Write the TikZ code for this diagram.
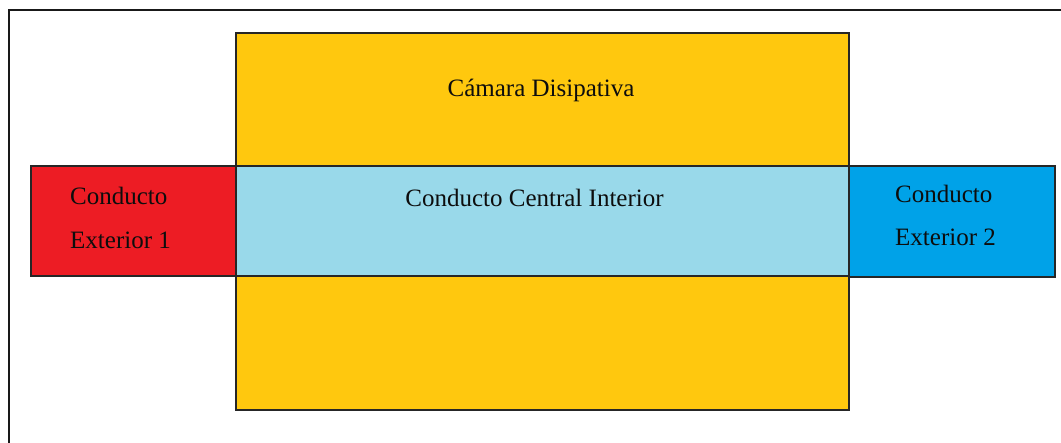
\documentclass[tikz,border=0pt]{standalone}
\usepackage{fontspec}
\setmainfont{Liberation Serif}
\definecolor{camyellow}{RGB}{255,200,14}
\definecolor{extred}{RGB}{237,28,36}
\definecolor{cenblue}{RGB}{153,217,234}
\definecolor{extblue}{RGB}{0,162,232}
\tikzset{
  region/.style={draw=black!85, line width=1.3pt, anchor=north west, inner sep=0pt, outer sep=0pt},
  label/.style={inner sep=0pt, font=\fontsize{25}{29}\selectfont, text=black!95}
}
\begin{document}
\begin{tikzpicture}[x=1pt,y=-1pt]
\useasboundingbox (0,0) rectangle (1061,443);
% outer frame (clipped at right and bottom)
\draw[line width=1.8pt, black!90] (9,444) -- (9,10) -- (1062,10);
% regions
\node[region, fill=camyellow, minimum width=613pt, minimum height=377pt] (camara) at (236,33) {};
\node[region, fill=extred, minimum width=205pt, minimum height=110pt] (ext1) at (31,166) {};
\node[region, fill=extblue, minimum width=206pt, minimum height=111pt] (ext2) at (849,166) {};
\node[region, fill=cenblue, minimum width=613pt, minimum height=110pt] (central) at (236,166) {};
% labels
\node[label, anchor=base] (tcam) at (541,97) {Cámara Disipativa};
\node[label, anchor=base] (tcen) at (534.5,207) {Conducto Central Interior};
\node[label, anchor=base west] (t1a) at (70,205) {Conducto};
\node[label, anchor=base west] (t1b) at (70,249) {Exterior 1};
\node[label, anchor=base west] (t2a) at (895,203) {Conducto};
\node[label, anchor=base west] (t2b) at (895,246) {Exterior 2};
\end{tikzpicture}
\end{document}
